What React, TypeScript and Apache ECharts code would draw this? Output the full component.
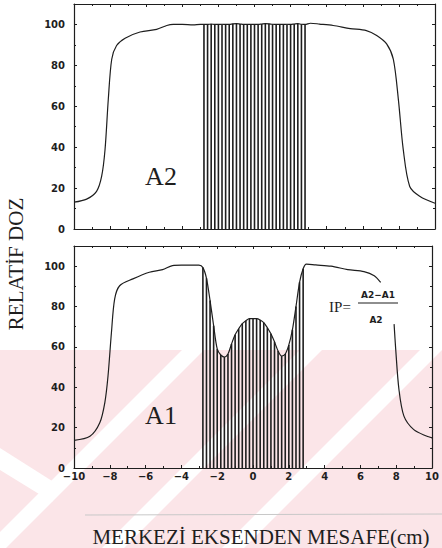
import React, { useEffect, useRef } from "react";
import * as echarts from "echarts";

// Top panel (A2) profile: x (cm), relative dose (%)
const A2_X = [-10, -9.3, -8.75, -8.47, -8.28, -8.1, -7.91, -7.64, -7.17, -6.34, -5.42, -4.86, -4.5, -4.0, -3.4, -3.0,
  -2.8, -2.6, -2.4, -2.2, -2.0, -1.8, -1.6, -1.4, -1.2, -1.0, -0.8, -0.6, -0.4, -0.2, 0, 0.2, 0.4, 0.6, 0.8, 1.0, 1.2, 1.4, 1.6, 1.8, 2.0, 2.2, 2.4, 2.6, 2.8,
  3.1, 3.6, 4.36, 5.3, 6.2, 6.77, 7.32, 7.69, 7.97, 8.24, 8.6, 9.17, 10];
const A2_Y = [13.1, 14.6, 18.4, 25.7, 38.9, 63.4, 83, 89.7, 93.3, 96.3, 97.6, 99.5, 100, 100, 99.8, 100,
  100, 100, 100.2, 100, 100, 100.1, 100, 100, 100.3, 100.4, 100.2, 100, 100, 100, 100, 100, 100.2, 100.4, 100.3, 100.1, 100, 100, 100, 100.1, 100, 100.2, 100.4, 100.1, 100,
  100.6, 100.2, 99.5, 98, 97, 94.6, 90.5, 83, 63.4, 38.9, 20.8, 15.9, 12.6];

// Bottom panel (A1) profile
const A1_X = [-10, -9.11, -8.56, -8.28, -8.1, -7.91, -7.73, -7.45, -6.71, -5.79, -5.05, -4.5, -4.0, -3.5, -3.02,
  -2.8, -2.6, -2.4, -2.2, -2.0, -1.8, -1.6, -1.4, -1.2, -1.0, -0.8, -0.6, -0.4, -0.2, 0, 0.2, 0.4, 0.6, 0.8, 1.0, 1.2, 1.4, 1.6, 1.8, 2.0, 2.2, 2.4, 2.6, 2.8,
  2.98, 3.5, 4.36, 5.29, 6.2, 6.77, 7.13, 7.5, 7.88, 7.97, 8.15, 8.43, 8.98, 9.72, 10];
const A1_Y = [13.7, 15.7, 22.4, 32.3, 45.6, 67, 83.7, 90.3, 93.7, 97, 98.3, 100.3, 100.5, 100.5, 100.5,
  99.3, 94, 83, 70.5, 59, 56, 55, 56.5, 61.5, 66, 69, 71.5, 73, 74, 74, 74, 73.3, 72, 69.5, 66.5, 62.5, 58, 55.5, 56.5, 61, 68.5, 80, 92, 98.7,
  101, 100.6, 100, 98.3, 97.3, 95.3, 92, null, 71.3, 58.9, 39, 25.7, 19, 15.7, 14.9];

// Integration (hatched) region limits
const HATCH_MIN = -2.8;
const HATCH_MAX = 2.8;

const X_TICKS = [-10, -8, -6, -4, -2, 0, 2, 4, 6, 8, 10];
const Y_TICKS = [0, 20, 40, 60, 80, 100];

const INK = "#1e1e1e";
const PINK = "#fbe5e8";

function pairs(xs: number[], ys: (number | null)[]) {
  return xs.map((x, i) => [x, ys[i]]);
}
function hatch(xs: number[], ys: (number | null)[]) {
  return xs
    .map((x, i) => [x, ys[i]])
    .filter((p) => (p[0] as number) >= HATCH_MIN - 1e-6 && (p[0] as number) <= HATCH_MAX + 1e-6 && p[1] != null);
}

const tickFont = { fontFamily: "DejaVu Sans", fontWeight: "bold" as const, fontSize: 10, color: INK };

function xAxes(gridIndex: number, labels: boolean) {
  const base = {
    gridIndex,
    type: "value" as const,
    min: -10,
    max: 10,
    interval: 2,
    axisLine: { show: true, onZero: false, lineStyle: { color: INK, width: 1.2 } },
    axisTick: { show: true, inside: true, length: 3, lineStyle: { color: INK } },
    minorTick: { show: true, splitNumber: 2, length: 2, lineStyle: { color: INK } },
    splitLine: { show: false },
  };
  return [
    {
      ...base,
      position: "bottom" as const,
      axisLabel: {
        show: labels,
        margin: 3,
        ...tickFont,
        formatter: (v: number) => (X_TICKS.includes(v) ? String(v).replace("-", "\u2212") : ""),
      },
    },
    { ...base, position: "top" as const, axisLabel: { show: false } },
  ];
}

function yAxes(gridIndex: number) {
  const base = {
    gridIndex,
    type: "value" as const,
    min: 0,
    max: 110,
    interval: 20,
    axisLine: { show: true, onZero: false, lineStyle: { color: INK, width: 1.2 } },
    axisTick: { show: true, inside: true, length: 3, lineStyle: { color: INK } },
    minorTick: { show: true, splitNumber: 2, length: 2, lineStyle: { color: INK } },
    splitLine: { show: false },
  };
  return [
    {
      ...base,
      position: "left" as const,
      axisLabel: {
        show: true,
        margin: 9,
        ...tickFont,
        formatter: (v: number) => (Y_TICKS.includes(v) ? String(v) : ""),
      },
    },
    { ...base, position: "right" as const, axisLabel: { show: false } },
  ];
}

function watermark() {
  const items: any[] = [];
  items.push({ type: "rect", z: -10, shape: { x: 0, y: 350, width: 442, height: 198 }, style: { fill: PINK } });
  const whiteBands = [182, 300, 420];
  whiteBands.forEach((x0) => {
    items.push({
      type: "polygon",
      z: -9,
      shape: { points: [[x0, 350], [x0 + 22, 350], [x0 + 22 - 198, 548], [x0 - 198, 548]] },
      style: { fill: "#ffffff" },
    });
  });
  items.push({
    type: "polygon",
    z: -9,
    shape: { points: [[0, 448], [0, 470], [52, 502], [60, 486]] },
    style: { fill: "#ffffff" },
  });
  return items;
}

const textFill = INK;

export default function App() {
  const ref = useRef<HTMLDivElement>(null);
  useEffect(() => {
    if (!ref.current) return;
    const chart = echarts.init(ref.current, null, { renderer: "svg" });
    const option: any = {
      animation: false,
      backgroundColor: "#ffffff",
      grid: [
        { left: 74, top: 4, width: 361, height: 225 },
        { left: 74, top: 246, width: 361, height: 222 },
      ],
      xAxis: [...xAxes(0, false), ...xAxes(1, true)],
      yAxis: [...yAxes(0), ...yAxes(1)],
      series: [
        {
          type: "bar",
          xAxisIndex: 0,
          yAxisIndex: 0,
          data: hatch(A2_X, A2_Y),
          barWidth: 1.6,
          itemStyle: { color: INK },
          z: 2,
        },
        {
          type: "line",
          xAxisIndex: 0,
          yAxisIndex: 0,
          data: pairs(A2_X, A2_Y),
          symbol: "none",
          smooth: 0.3,
          lineStyle: { color: INK, width: 1.2 },
          z: 3,
        },
        {
          type: "bar",
          xAxisIndex: 2,
          yAxisIndex: 2,
          data: hatch(A1_X, A1_Y),
          barWidth: 1.6,
          itemStyle: { color: INK },
          z: 2,
        },
        {
          type: "line",
          xAxisIndex: 2,
          yAxisIndex: 2,
          data: pairs(A1_X, A1_Y),
          symbol: "none",
          smooth: 0.3,
          connectNulls: false,
          lineStyle: { color: INK, width: 1.2 },
          z: 3,
        },
      ],
      graphic: [
        ...watermark(),
        {
          type: "text", z: 10, x: 161, y: 176,
          style: { text: "A2", fontFamily: "Liberation Serif", fontSize: 26, fill: textFill, align: "center", verticalAlign: "middle" },
        },
        {
          type: "text", z: 10, x: 161, y: 415,
          style: { text: "A1", fontFamily: "Liberation Serif", fontSize: 26, fill: textFill, align: "center", verticalAlign: "middle" },
        },
        {
          type: "text", z: 10, x: 340, y: 307,
          style: { text: "IP=", fontFamily: "Liberation Serif", fontSize: 15, fill: textFill, align: "center", verticalAlign: "middle" },
        },
        {
          type: "text", z: 10, x: 378, y: 295,
          style: { text: "A2\u2212A1", fontFamily: "DejaVu Sans", fontWeight: "bold", fontSize: 9, fill: textFill, align: "center", verticalAlign: "middle" },
        },
        {
          type: "line", z: 10, shape: { x1: 358, y1: 303, x2: 398, y2: 303 },
          style: { stroke: textFill, lineWidth: 1.2 },
        },
        {
          type: "text", z: 10, x: 376, y: 320,
          style: { text: "A2", fontFamily: "DejaVu Sans", fontWeight: "bold", fontSize: 9, fill: textFill, align: "center", verticalAlign: "middle" },
        },
        {
          type: "text", z: 10, x: 16, y: 264, rotation: Math.PI / 2,
          style: { text: "RELAT\u0130F DOZ", fontFamily: "Liberation Serif", fontSize: 21, fill: textFill, align: "center", verticalAlign: "middle" },
        },
        {
          type: "line", z: 10, shape: { x1: 85, y1: 515, x2: 442, y2: 514 },
          style: { stroke: "#c8c8c8", lineWidth: 1 },
        },
        {
          type: "text", z: 10, x: 261, y: 537,
          style: { text: "MERKEZ\u0130 EKSENDEN MESAFE(cm)", fontFamily: "Liberation Serif", fontSize: 21, fill: textFill, align: "center", verticalAlign: "middle" },
        },
      ],
    };
    chart.setOption(option);
    return () => chart.dispose();
  }, []);
  return <div ref={ref} style={{ position: "fixed", left: 0, top: 0, width: 442, height: 548 }} />;
}
